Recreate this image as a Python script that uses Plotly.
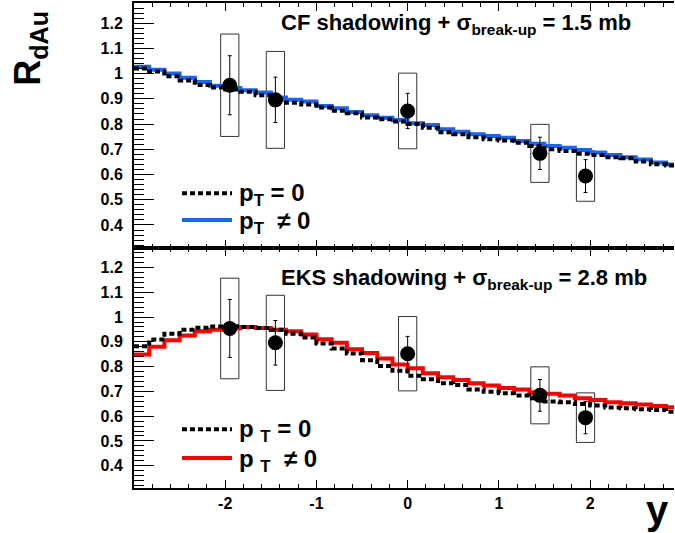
import plotly.graph_objects as go

# ---------------- data ----------------
bin_lo = -3.0
bin_w = 1.0 / 6.0
# CF shadowing + sigma_break-up = 1.5 mb (36 bins of width 1/6 starting at y=-3)
cf_pt0 = [1.020, 1.008, 0.990, 0.973, 0.955, 0.945, 0.937, 0.928, 0.914, 0.895, 0.885, 0.878,
          0.866, 0.853, 0.843, 0.826, 0.819, 0.810, 0.800, 0.785, 0.768, 0.760, 0.748, 0.740,
          0.735, 0.726, 0.713, 0.700, 0.693, 0.682, 0.677, 0.669, 0.665, 0.652, 0.641, 0.636]
cf_ptn0 = [1.027, 1.015, 1.001, 0.984, 0.967, 0.952, 0.943, 0.934, 0.925, 0.905, 0.896, 0.890,
           0.872, 0.863, 0.848, 0.835, 0.825, 0.816, 0.803, 0.796, 0.780, 0.770, 0.760, 0.753,
           0.746, 0.733, 0.722, 0.713, 0.706, 0.697, 0.687, 0.677, 0.669, 0.660, 0.648, 0.640]
# EKS shadowing + sigma_break-up = 2.8 mb
eks_pt0 = [0.882, 0.909, 0.933, 0.949, 0.957, 0.962, 0.963, 0.960, 0.956, 0.949, 0.933, 0.917,
           0.893, 0.873, 0.853, 0.826, 0.802, 0.783, 0.763, 0.749, 0.733, 0.726, 0.708, 0.699,
           0.692, 0.683, 0.672, 0.659, 0.656, 0.649, 0.643, 0.635, 0.632, 0.628, 0.625, 0.618]
eks_ptn0 = [0.849, 0.880, 0.906, 0.926, 0.943, 0.949, 0.955, 0.960, 0.956, 0.949, 0.943, 0.930,
            0.910, 0.896, 0.870, 0.855, 0.833, 0.809, 0.793, 0.773, 0.757, 0.746, 0.733, 0.724,
            0.714, 0.708, 0.695, 0.690, 0.683, 0.672, 0.665, 0.656, 0.652, 0.647, 0.641, 0.636]

# PHENIX data points
y_data = [-1.95, -1.45, 0.0, 1.45, 1.95]
r_data = [0.954, 0.896, 0.852, 0.684, 0.594]
stat_err = [0.117, 0.090, 0.070, 0.064, 0.065]
sys_err = [0.203, 0.192, 0.150, 0.115, 0.100]

x_ticks = [-2, -1, 0, 1, 2]
x_tick_labels = ["-2", "-1", "0", "1", "2"]
y_ticks = [0.4, 0.5, 0.6, 0.7, 0.8, 0.9, 1.0, 1.1, 1.2]
y_tick_labels = ["0.4", "0.5", "0.6", "0.7", "0.8", "0.9", "1", "1.1", "1.2"]

# ---------------- layout constants ----------------
W, H = 675, 533
ML, MR, MT, MB = 134, 1, 1, 45
PW = W - ML - MR
PH = H - MT - MB
SPLIT_PX = 246.7
XR = [-3.0, 2.92]
YR = [0.31, 1.28]
BOX_HW = 0.1
FONT = "Liberation Sans, Arial, Helvetica, sans-serif"
BLUE = "#1466f5"
RED = "#ff0000"


def px2x(px):
    return (px - ML) / PW


def px2y(py):
    return (H - MB - py) / PH


split = px2y(SPLIT_PX)

edges = [bin_lo + i * bin_w for i in range(len(cf_pt0) + 1)]


def step_trace(vals, color, dash, xa, ya, width):
    return go.Scatter(x=edges, y=list(vals) + [vals[-1]], mode="lines", line_shape="hv",
                      line=dict(color=color, width=width, dash=dash),
                      xaxis=xa, yaxis=ya, showlegend=False, hoverinfo="skip")


def box_trace(xa, ya):
    bx, by = [], []
    for xv, yv, s in zip(y_data, r_data, sys_err):
        bx += [xv - BOX_HW, xv + BOX_HW, xv + BOX_HW, xv - BOX_HW, xv - BOX_HW, None]
        by += [yv - s, yv - s, yv + s, yv + s, yv - s, None]
    return go.Scatter(x=bx, y=by, mode="lines", line=dict(color="#333333", width=1),
                      xaxis=xa, yaxis=ya, showlegend=False, hoverinfo="skip")


def point_trace(xa, ya):
    return go.Scatter(x=y_data, y=r_data, mode="markers",
                      marker=dict(color="black", size=15, symbol="circle"),
                      error_y=dict(type="data", array=stat_err, visible=True, color="black",
                                   thickness=1, width=2),
                      xaxis=xa, yaxis=ya, showlegend=False)


fig = go.Figure()
# top panel
fig.add_trace(box_trace("x", "y"))
fig.add_trace(step_trace(cf_ptn0, BLUE, "solid", "x", "y", 4))
fig.add_trace(step_trace(cf_pt0, "black", "5px,3px", "x", "y", 4))
fig.add_trace(point_trace("x", "y"))
# bottom panel
fig.add_trace(box_trace("x2", "y2"))
fig.add_trace(step_trace(eks_ptn0, RED, "solid", "x2", "y2", 4))
fig.add_trace(step_trace(eks_pt0, "black", "5px,3px", "x2", "y2", 4))
fig.add_trace(point_trace("x2", "y2"))

tickfont = dict(family=FONT, size=16, color="black", weight="bold")

xcommon = dict(range=XR, tickmode="array", tickvals=x_ticks, ticktext=x_tick_labels,
               ticks="inside", ticklen=8, tickwidth=1, tickcolor="black",
               minor=dict(ticks="inside", ticklen=4, dtick=0.2, tick0=0, tickcolor="black", tickwidth=1),
               showline=True, linewidth=2, linecolor="black", mirror="ticks",
               showgrid=False, zeroline=False, tickfont=tickfont)
ycommon = dict(range=YR, tickmode="array", tickvals=y_ticks, ticktext=y_tick_labels,
               ticks="inside", ticklen=20, tickwidth=1, tickcolor="black",
               minor=dict(ticks="inside", ticklen=10, dtick=0.02, tick0=0, tickcolor="black", tickwidth=1),
               showline=True, linewidth=2, linecolor="black",
               showgrid=False, zeroline=False, tickfont=tickfont, ticklabelstandoff=6)
yright = dict(range=YR, tickmode="array", tickvals=y_ticks, ticks="inside", ticklen=13, tickwidth=1,
              tickcolor="black",
              minor=dict(ticks="inside", ticklen=5, dtick=0.02, tick0=0, tickcolor="black", tickwidth=1),
              showline=True, linewidth=2, linecolor="black", showticklabels=False,
              showgrid=False, zeroline=False, side="right")

fig.update_layout(
    width=W, height=H,
    margin=dict(l=ML, r=MR, t=MT, b=MB, pad=0),
    paper_bgcolor="white", plot_bgcolor="white",
    showlegend=False,
    xaxis=dict(xcommon, anchor="y", domain=[0, 1], showticklabels=False),
    yaxis=dict(ycommon, anchor="x", domain=[split, 1]),
    xaxis2=dict(xcommon, anchor="y2", domain=[0, 1], showticklabels=True, ticklabelstandoff=0),
    yaxis2=dict(ycommon, anchor="x2", domain=[0, split]),
    yaxis3=dict(yright, overlaying="y", anchor="x"),
    yaxis4=dict(yright, overlaying="y2", anchor="x2"),
)


# legends (line samples + labels)
def legend_line(py, color, dash):
    fig.add_shape(type="line", xref="paper", yref="paper", x0=px2x(182), x1=px2x(232),
                  y0=px2y(py), y1=px2y(py), line=dict(color=color, width=4, dash=dash))


def legend_text(py, text):
    fig.add_annotation(xref="paper", yref="paper", x=px2x(237), y=px2y(py), xanchor="left",
                       yanchor="middle", showarrow=False, text=text,
                       font=dict(family=FONT, size=24, color="black", weight="bold"))


legend_line(192, "black", "5px,3px")
legend_line(219, BLUE, "solid")
legend_text(193, "p<sub>T</sub> = 0")
legend_text(221, "p<sub>T</sub>  \u2260 0")

legend_line(429, "black", "5px,3px")
legend_line(458, RED, "solid")
legend_text(430, "p <sub>T</sub> = 0")
legend_text(460, "p <sub>T</sub>  \u2260 0")

# panel titles
fig.add_annotation(xref="paper", yref="paper", x=px2x(279), y=px2y(22), xanchor="left",
                   yanchor="middle", showarrow=False,
                   text="CF shadowing + \u03c3<sub>break-up</sub> = 1.5 mb",
                   font=dict(family=FONT, size=22, color="black", weight="bold"))
fig.add_annotation(xref="paper", yref="paper", x=px2x(279), y=px2y(278), xanchor="left",
                   yanchor="middle", showarrow=False,
                   text="EKS shadowing + \u03c3<sub>break-up</sub> = 2.8 mb",
                   font=dict(family=FONT, size=22, color="black", weight="bold"))

# axis titles
fig.add_annotation(xref="paper", yref="paper", x=px2x(30), y=px2y(47), xanchor="center",
                   yanchor="middle", showarrow=False, textangle=-90,
                   text="R<sub>dAu</sub>",
                   font=dict(family=FONT, size=36, color="black", weight="bold"))
fig.add_annotation(xref="paper", yref="paper", x=px2x(657), y=px2y(510), xanchor="center",
                   yanchor="middle", showarrow=False, text="y",
                   font=dict(family=FONT, size=40, color="black", weight="bold"))

fig.write_html(
    "out.html",
    config={"displayModeBar": False, "staticPlot": True},
    post_script="document.body.style.margin='0';document.body.style.overflow='hidden';"
                "document.documentElement.style.overflow='hidden';",
)
